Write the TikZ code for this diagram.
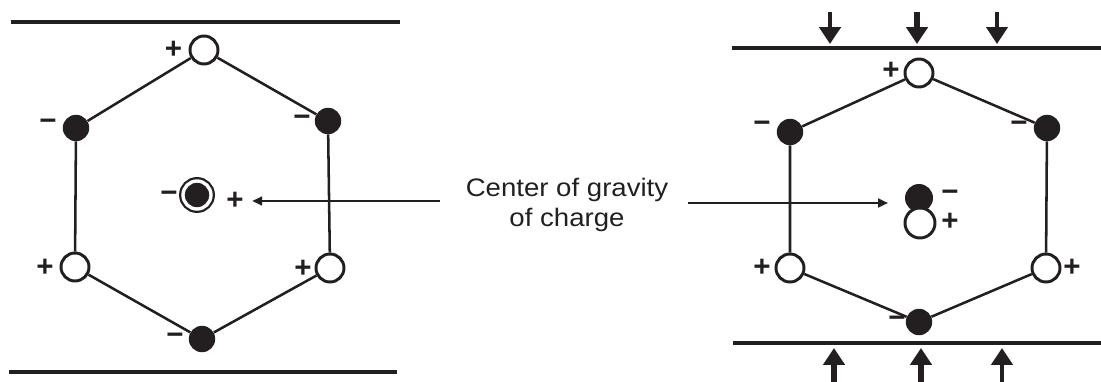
\documentclass[tikz,border=0pt]{standalone}
\usepackage{fontspec}
\setmainfont{Liberation Sans}
\newfontfamily\capfont{Liberation Sans}[FakeStretch=1.09]
\usetikzlibrary{positioning,arrows.meta}
\definecolor{ink}{HTML}{231F20}

\begin{document}
\begin{tikzpicture}[
			x=0.025cm, y=-0.025cm,
			openatom/.style={
					circle,
					draw=ink,
					line width=2.1pt,
					fill=white,
					minimum size=0.7cm,
					inner sep=0pt
				},
			fullatom/.style={
					circle,
					fill=ink,
					minimum size=0.66cm,
					inner sep=0pt
				},
			ringatom/.style={
					circle,
					draw=ink,
					fill=ink,
					line width=1.6pt,
					double=white,
					double distance=2.4pt,
					minimum size=0.7cm,
					inner sep=0pt
				},
			chg/.style={
					text=ink,
					font=\bfseries\fontsize{21}{21}\selectfont,
					inner sep=0pt
				},
			bond/.style={draw=ink, line width=1.8pt},
			plate/.style={draw=ink, line width=2.4pt},
			press/.style={draw=ink, -{Triangle[length=12pt,width=15pt]}},
			pointer/.style={draw=ink, line width=0.9pt, -{Triangle[length=7pt,width=6.5pt]}}
		]

		\useasboundingbox (0,0) rectangle (1101,382);

		\coordinate (lpa) at (11,22);
		\coordinate (lpb) at (400,22);
		\coordinate (lpc) at (9,372);
		\coordinate (lpd) at (397,372);
		\draw[plate] (lpa) -- (lpb);
		\draw[plate] (lpc) -- (lpd);

		\node[openatom] (lt) at (204,50) {};
		\node[fullatom] (lul) at (76,128) {};
		\node[fullatom] (lur) at (328,121) {};
		\node[openatom] (lll) at (75,267) {};
		\node[openatom] (llr) at (330,268) {};
		\node[fullatom] (lb) at (202,339) {};
		\draw[bond] (lt) -- (lur) -- (llr) -- (lb) -- (lll) -- (lul) -- (lt);

		\node[chg] at (173.5,50) {+};
		\node[chg] at (48,125) {−};
		\node[chg] at (302,121) {−};
		\node[chg] at (45,268) {+};
		\node[chg] at (303,269) {+};
		\node[chg] at (175,339) {−};

		\node[ringatom] (lc) at (197,195) {};
		\node[chg] at (169,197) {−};
		\node[chg] (lcplus) at (235,201) {+};

		\coordinate (rpa) at (732,48);
		\coordinate (rpb) at (1101,48);
		\coordinate (rpc) at (733,343);
		\coordinate (rpd) at (1101,343);
		\draw[plate] (rpa) -- (rpb);
		\draw[plate] (rpc) -- (rpd);

		\foreach \xx/\ww in {830/3pt, 917/4pt, 997/2.4pt}
		\draw[press, line width=\ww] (\xx,12) -- (\xx,44);
		\foreach \xx/\ww in {834/4pt, 921/3.6pt, 1002/2.8pt}
		\draw[press, line width=\ww] (\xx,382) -- (\xx,348);

		\node[openatom] (rt) at (919,73) {};
		\node[fullatom] (rul) at (790,132) {};
		\node[fullatom] (rur) at (1047,128) {};
		\node[openatom] (rll) at (790,268) {};
		\node[openatom] (rlr) at (1046,268) {};
		\node[fullatom] (rb) at (919,322) {};
		\draw[bond] (rt) -- (rur) -- (rlr) -- (rb) -- (rll) -- (rul) -- (rt);

		\node[chg] at (891,71) {+};
		\node[chg] at (762,127) {−};
		\node[chg] at (1019,127) {−};
		\node[chg] at (762,268) {+};
		\node[chg] at (1072,268) {+};
		\node[chg] at (897,322) {−};

		\node[fullatom, minimum size=0.7cm] (rcn) at (919,198) {};
		\node[openatom, minimum size=0.75cm] (rcp) at (920,223) {};
		\node[chg] at (950,196) {−};
		\node[chg] at (950,222) {+};

		\node (cog) [align=center, text=ink, inner sep=0pt,
			font=\capfont\fontsize{18}{21}\selectfont]
		at (567,205) {Center of gravity\\of charge};

		\coordinate (lefttail) at (440,201);
		\coordinate (righttail) at (688,203);
		\draw[pointer, shorten >=6pt] (lefttail) -- (lcplus);
		\draw[pointer, shorten >=12pt] (righttail) -- (righttail -| rcn.west);

	\end{tikzpicture}
\end{document}
